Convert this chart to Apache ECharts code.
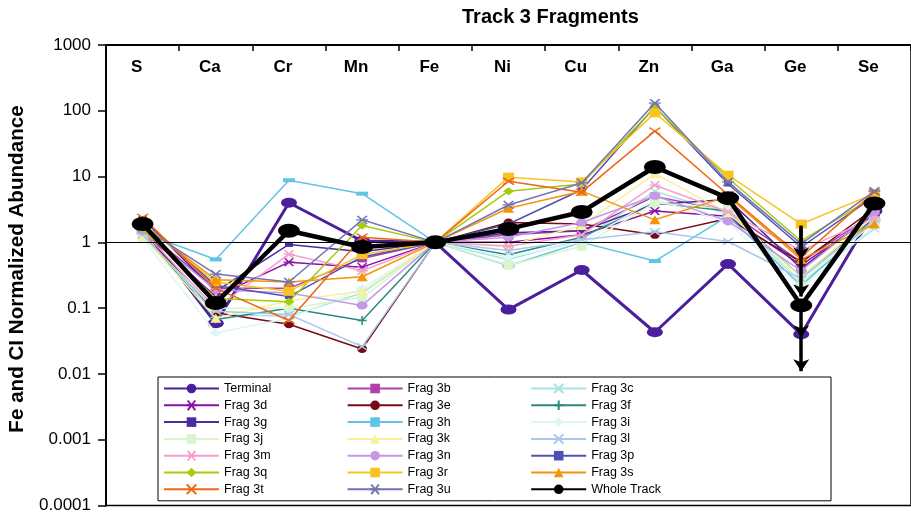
<!DOCTYPE html>
<html>
<head>
<meta charset="utf-8">
<script src="https://cdn.jsdelivr.net/npm/echarts@6/dist/echarts.min.js"></script>
<style>
html,body{margin:0;padding:0;background:#fff;}
#chart{width:911px;height:514px;}
</style>
</head>
<body>
<div id="chart"></div>
<script>
// ---- data (Fe and CI normalized abundances) ----
const categories = ['S','Ca','Cr','Mn','Fe','Ni','Cu','Zn','Ga','Ge','Se'];
const yTickLabels = ['0.0001','0.001','0.01','0.1','1','10','100','1000'];
const seriesNames = ['Terminal','Frag 3b','Frag 3c','Frag 3d','Frag 3e','Frag 3f','Frag 3g','Frag 3h','Frag 3i','Frag 3j','Frag 3k','Frag 3l','Frag 3m','Frag 3n','Frag 3p','Frag 3q','Frag 3r','Frag 3s','Frag 3t','Frag 3u','Whole Track'];

const terminal  = [1.7, 0.059, 4.0, 1.05, 1, 0.095, 0.38, 0.043, 0.47, 0.04, 3.0];
const frag3b    = [1.6, 0.2, 0.2, 0.57, 1, 1.3, 1.5, 5.0, 3.0, 0.5, 2.8];
const frag3c    = [1.3, 0.08, 0.075, 0.17, 1, 0.55, 1.1, 6.0, 2.7, 0.25, 1.6];
const frag3d    = [1.5, 0.15, 0.5, 0.42, 1, 1.0, 1.3, 3.0, 2.5, 0.45, 2.6];
const frag3e    = [1.5, 0.085, 0.057, 0.024, 1, 2.0, 1.9, 1.3, 2.3, 0.5, 3.3];
const frag3f    = [1.35, 0.067, 0.1, 0.065, 1, 0.65, 1.2, 4.0, 3.0, 0.3, 2.4];
const frag3g    = [2.3, 0.18, 0.93, 0.72, 1, 1.4, 1.5, 3.8, 4.5, 0.4, 2.8];
const frag3h    = [1.4, 0.55, 8.8, 5.5, 1, 0.44, 1.0, 0.52, 2.5, 0.22, 2.2];
const frag3i    = [1.15, 0.042, 0.07, 0.2, 1, 0.6, 1.0, 4.5, 2.0, 0.2, 1.8];
const frag3j    = [1.2, 0.1, 0.1, 0.145, 1, 0.45, 0.87, 4.0, 3.2, 0.25, 2.0];
const frag3k    = [1.25, 0.07, 0.13, 0.18, 1, 0.9, 1.8, 11, 2.8, 0.3, 2.5];
const frag3l    = [1.3, 0.09, 0.08, 0.026, 1, 0.75, 1.1, 1.45, 1.03, 0.28, 2.2];
const frag3m    = [1.5, 0.1, 0.66, 0.37, 1, 0.87, 1.3, 7.4, 2.9, 0.75, 2.4];
const frag3n    = [1.5, 0.19, 0.17, 0.11, 1, 1.2, 2.0, 5.1, 2.1, 0.37, 2.9];
const frag3p    = [2.2, 0.22, 0.15, 0.6, 1, 1.9, 6.3, 115, 7.7, 0.85, 5.0];
const frag3q    = [1.6, 0.14, 0.125, 1.8, 1, 6.0, 7.7, 113, 9.5, 1.05, 5.0];
const frag3r    = [1.9, 0.25, 0.18, 0.65, 1, 9.8, 8.3, 93, 10.5, 1.9, 5.5];
const frag3s    = [1.9, 0.27, 0.25, 0.3, 1, 3.3, 6.0, 2.2, 5.0, 0.55, 1.9];
const frag3t    = [2.4, 0.2, 0.065, 1.2, 1, 8.5, 5.8, 49, 5.3, 0.6, 5.8];
const frag3u    = [1.7, 0.33, 0.25, 2.2, 1, 3.7, 8.0, 131, 8.3, 0.95, 6.0];
const wholeTrack= [1.9, 0.12, 1.5, 0.85, 1, 1.6, 2.9, 14, 4.7, 0.11, 3.9];

// upper-limit arrows at Ge: [from, to]
const geArrows = [[1.8, 0.55], [1.6, 0.15], [0.11, 0.036], [0.036, 0.011]];

const allValues = [terminal, frag3b, frag3c, frag3d, frag3e, frag3f, frag3g, frag3h, frag3i, frag3j, frag3k, frag3l, frag3m, frag3n, frag3p, frag3q, frag3r, frag3s, frag3t, frag3u, wholeTrack];

// ---- styles ----
const P_X = 'path://M0,0L10,10M10,0L0,10';
const P_AST = 'path://M0,5L10,5M1,0L9,10M9,0L1,10';
const P_PLUS = 'path://M5,0L5,10M0,5L10,5';
const styles = [
  {c:'#4B1E9B', s:'circle', sz:[16,10], w:3},
  {c:'#B040A8', s:'rect', sz:[10,8], w:1.5},
  {c:'#A8E4E4', s:P_X, sz:[10,7], w:1.5, stroke:true},
  {c:'#8A10A8', s:P_AST, sz:[11,8], w:1.5, stroke:true},
  {c:'#780A14', s:'circle', sz:[10,8], w:1.5},
  {c:'#2A8A80', s:P_PLUS, sz:[9,9], w:1.5, stroke:true},
  {c:'#4A2CA0', s:'rect', sz:[8,5], w:1.5},
  {c:'#60C4E4', s:'rect', sz:[12,4], w:1.5},
  {c:'#DDF6F6', s:'diamond', sz:[12,8], w:1.5},
  {c:'#D8F5CC', s:'rect', sz:[10,9], w:1.5},
  {c:'#F8F0A0', s:'triangle', sz:[11,9], w:1.5},
  {c:'#A8C8EC', s:P_X, sz:[10,7], w:1.5, stroke:true},
  {c:'#F4A0CC', s:P_AST, sz:[11,8], w:1.5, stroke:true},
  {c:'#C498E4', s:'circle', sz:[11,8], w:1.5},
  {c:'#5050B4', s:'rect', sz:[8,5], w:1.5},
  {c:'#A4CC0C', s:'diamond', sz:[11,8], w:1.5},
  {c:'#F8C424', s:'rect', sz:[11,9], w:1.5},
  {c:'#F49408', s:'triangle', sz:[11,9], w:1.5},
  {c:'#F06414', s:P_X, sz:[11,7], w:1.5, stroke:true},
  {c:'#7474B4', s:P_AST, sz:[12,8], w:1.5, stroke:true},
  {c:'#000000', s:'circle', sz:[22,14], w:4.5}
];

const FONT = '"Liberation Sans", Arial, Helvetica, sans-serif';

const series = seriesNames.map((name, i) => {
  const st = styles[i];
  const s = {
    name: name,
    type: 'line',
    data: allValues[i],
    symbol: st.s,
    symbolSize: st.sz,
    showSymbol: true,
    lineStyle: {color: st.c, width: st.w},
    itemStyle: st.stroke ? {color: st.c, borderColor: st.c, borderWidth: 1.5} : {color: st.c},
    emphasis: {disabled: true},
    z: 2 + i * 0.01
  };
  if (i === 0) {
    s.markLine = {
      silent: true, symbol: 'none', animation: false,
      label: {show: false},
      lineStyle: {color: '#000', width: 1, type: 'solid'},
      data: [{yAxis: 1}]
    };
  }
  if (name === 'Whole Track') {
    s.markLine = {
      silent: true, animation: false,
      symbol: ['none', 'arrow'], symbolSize: [12, 12],
      label: {show: false},
      lineStyle: {color: '#000', width: 3.5, type: 'solid'},
      data: geArrows.map(a => [{coord: ['Ge', a[0]]}, {coord: ['Ge', a[1]]}])
    };
  }
  return s;
});

const chart = echarts.init(document.getElementById('chart'), null, {renderer: 'canvas'});
chart.setOption({
  animation: false,
  backgroundColor: '#fff',
  title: {
    text: 'Track 3 Fragments',
    left: 462, top: 7, padding: 0,
    textStyle: {fontFamily: FONT, fontSize: 20, fontWeight: 'bold', color: '#000'}
  },
  grid: {
    left: 106, top: 45, width: 806, height: 465,
    show: true, borderColor: '#000', borderWidth: 1.5, backgroundColor: 'transparent'
  },
  legend: {
    data: seriesNames,
    left: 158, top: 377,
    width: 560,
    orient: 'horizontal',
    padding: [5, 121, 5, 5],
    itemWidth: 55, itemHeight: 12, itemGap: 3.8,
    backgroundColor: '#fff', borderColor: '#000', borderWidth: 1,
    selectedMode: false,
    formatter: '{t|{name}}',
    textStyle: {
      fontFamily: FONT, fontSize: 12.5, color: '#000',
      rich: {t: {width: 118.8, height: 12, lineHeight: 12, fontFamily: FONT, fontSize: 12.5, color: '#000'}}
    }
  },
  xAxis: {
    type: 'category',
    position: 'top',
    data: categories,
    boundaryGap: true,
    axisLine: {show: true, lineStyle: {color: '#000', width: 2}},
    axisTick: {show: true, inside: true, length: 6, lineStyle: {color: '#000', width: 1.5}},
    axisLabel: {inside: true, margin: 14, padding: [0, 12, 0, 0], fontFamily: FONT, fontSize: 17, fontWeight: 'bold', color: '#000'},
    splitLine: {show: false}
  },
  yAxis: {
    type: 'log',
    logBase: 10,
    min: 0.0001, max: 1000,
    interval: 1,
    axisLine: {show: true, lineStyle: {color: '#000', width: 2}},
    axisTick: {show: true, length: 8, lineStyle: {color: '#000', width: 1.5}},
    minorTick: {show: false},
    axisLabel: {
      margin: 15, fontFamily: FONT, fontSize: 17, color: '#000',
      formatter: function (v) {
        const e = Math.round(Math.log10(v));
        return yTickLabels[e + 4];
      }
    },
    splitLine: {show: false}
  },
  graphic: [{
    type: 'text',
    x: 17, y: 269,
    rotation: Math.PI / 2,
    style: {
      text: 'Fe and CI Normalized Abundance',
      font: 'bold 20.6px ' + FONT,
      fill: '#000',
      align: 'center',
      verticalAlign: 'middle'
    },
    silent: true
  }],
  series: series
});
</script>
</body>
</html>
